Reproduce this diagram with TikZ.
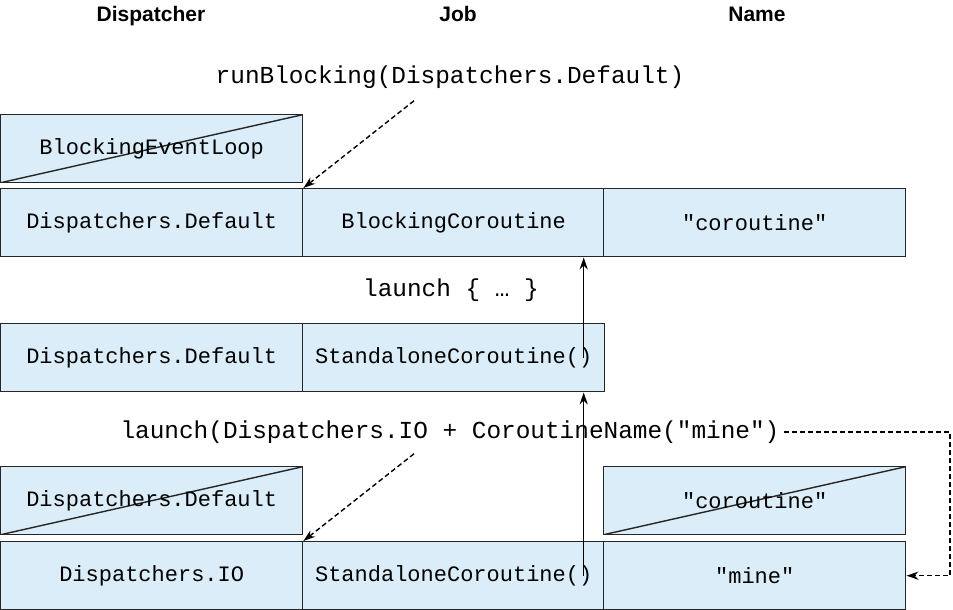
\documentclass[tikz,border=0pt]{standalone}
\usepackage{fontspec}
\setmainfont{Liberation Sans}
\setmonofont{Liberation Mono}
\usetikzlibrary{arrows.meta}
\definecolor{cellblue}{RGB}{219,237,248}

\begin{document}
\begin{tikzpicture}[
    x=0.5pt, y=-0.5pt,
    >={Stealth[length=6pt,width=4pt]},
    cell/.style={
        draw=black!85,
        fill=cellblue,
        line width=0.7pt,
        minimum width=151pt,
        minimum height=34pt,
        inner sep=0pt,
        anchor=north west,
        font=\ttfamily\fontsize{11}{13}\selectfont
    },
    crossed/.style={
        cell,
        path picture={\draw[line width=0.7pt]
            (path picture bounding box.south west) -- (path picture bounding box.north east);}
    },
    head/.style={anchor=base, font=\bfseries\fontsize{10.5}{12}\selectfont},
    code/.style={font=\ttfamily\fontsize{12.2}{14}\selectfont, inner sep=2pt},
    arr/.style={->, line width=0.7pt},
    dasharr/.style={->, line width=0.7pt, dash pattern=on 2.5pt off 1.5pt}
]
    \useasboundingbox (0,0) rectangle (953,610);

    % column heads
    \node[head] (hdisp) at (151,22) {Dispatcher};
    \node[head] (hjob)  at (458,22) {Job};
    \node[head] (hname) at (757,22) {Name};

    % runBlocking
    \node[code] (rb) at (450,77) {runBlocking(Dispatchers.Default)};
    \node[crossed] (loop) at (0,114) {BlockingEventLoop};
    \node[cell] (disp1) at (0,188) {Dispatchers.Default};
    \node[cell] (job1)  at (302,188) {BlockingCoroutine};
    \node[cell] (name1) at (603,188) {"coroutine"};

    % launch { ... }
    \node[code] (lb) at (451,290) {launch \{ … \}};
    \node[cell] (disp2) at (0,323) {Dispatchers.Default};
    \node[cell] (job2)  at (302,323) {StandaloneCoroutine()};

    % launch with context
    \node[code] (lio) at (450,432) {launch(Dispatchers.IO + CoroutineName("mine")};
    \node[crossed] (olddisp) at (0,466) {Dispatchers.Default};
    \node[crossed] (oldname) at (603,466) {"coroutine"};
    \node[cell] (disp3) at (0,541) {Dispatchers.IO};
    \node[cell] (job3)  at (302,541) {StandaloneCoroutine()};
    \node[cell] (name3) at (603,541) {"mine"};

    \draw[dasharr] ([xshift=-18pt,yshift=-4pt]rb.south) -- (disp1.north east);
    \draw[arr] ([xshift=65pt]job2.center) -- ([xshift=65pt]job1.south);
    \draw[arr] ([xshift=65pt]job3.center) -- ([xshift=65pt]job2.south);
    \draw[dasharr] ([xshift=-18pt,yshift=-3pt]lio.south) -- (disp3.north east);
    \draw[dasharr] (lio.east) -- ++(166,0) |- (name3.east);
\end{tikzpicture}
\end{document}
